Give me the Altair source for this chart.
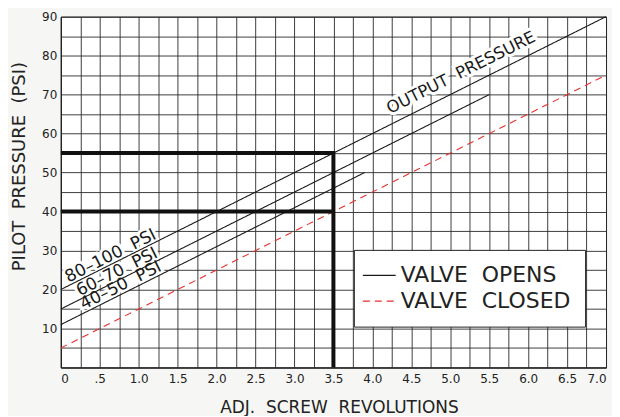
import altair as alt
import pandas as pd

# ---- data ----
revs_hi = [0.0, 7.0];  psi_hi = [20, 90]      # 80-100 PSI spring (output pressure)
revs_mid = [0.0, 5.5]; psi_mid = [15, 70]     # 60-70 PSI spring
revs_lo = [0.0, 3.9];  psi_lo = [11, 50]      # 40-50 PSI spring
revs_closed = [0.0, 7.0]; psi_closed = [5, 75]  # valve closed

set_a_x = [0.0, 3.5, 3.5]; set_a_y = [55, 55, 0]   # setpoint example (heavy)
set_b_x = [0.0, 3.5];      set_b_y = [40, 40]

NB = " \u00a0"  # wide word gap as in the reference lettering
label_text = ["OUTPUT" + NB + "PRESSURE", "80\u2013100" + NB + "PSI", "60\u201370" + NB + "PSI", "40\u201350" + NB + "PSI"]
label_size = [16.5, 17, 17, 17]
label_x = [5.14, 0.64, 0.72, 0.77]
label_y = [75.6, 28.6, 24.5, 21.0]

OPEN, CLOSED = "VALVE" + NB + "OPENS", "VALVE" + NB + "CLOSED"
FONT = "DejaVu Sans"

rows = []
for sid, (xs_, ys_, kind) in enumerate([(revs_hi, psi_hi, OPEN), (revs_mid, psi_mid, OPEN),
                                        (revs_lo, psi_lo, OPEN), (revs_closed, psi_closed, CLOSED)]):
    for i, (xv, yv) in enumerate(zip(xs_, ys_)):
        rows.append({"sid": sid, "x": xv, "y": yv, "kind": kind, "o": i})
lines_df = pd.DataFrame(rows)

heavy = []
for sid, (xs_, ys_) in enumerate([(set_a_x, set_a_y), (set_b_x, set_b_y)]):
    for i, (xv, yv) in enumerate(zip(xs_, ys_)):
        heavy.append({"sid": sid, "x": xv, "y": yv, "o": i})
heavy_df = pd.DataFrame(heavy)

labels_df = pd.DataFrame({"t": label_text, "x": label_x, "y": label_y, "s": label_size})

xgrid = [i * 0.25 for i in range(29)]
ygrid = list(range(0, 91, 5))

xs = alt.Scale(domain=[0, 7], nice=False, zero=False)
ys = alt.Scale(domain=[0, 90], nice=False, zero=False)

x_axis = alt.Axis(values=xgrid, tickCount=29, title="ADJ." + NB + "SCREW" + NB + "REVOLUTIONS", labelOverlap=False,
                  labelExpr="datum.value == 0 ? '0' : datum.value == 0.5 ? '.5' : (datum.value % 0.5 == 0 ? format(datum.value, '.1f') : '')",
                  titleX=279, titleY=40, titleBaseline="middle", titleAlign="center", labelPadding=6)
y_axis = alt.Axis(values=ygrid, tickCount=19, title="PILOT" + NB + "PRESSURE" + NB + "(PSI)", labelOverlap=False,
                  labelExpr="(datum.value % 10 == 0 && datum.value > 0) ? datum.label : ''",
                  titleX=-41, titleY=150, titleAngle=270, titleBaseline="middle", titleAlign="center",
                  titleFontSize=18, labelPadding=4)

X = alt.X("x:Q", scale=xs, axis=x_axis)
Y = alt.Y("y:Q", scale=ys, axis=y_axis)

legend = alt.Legend(title=None, orient="none", legendX=294, legendY=234,
                    fillColor="white", strokeColor="#222", padding=14,
                    labelFontSize=22, labelFont=FONT, labelColor="#222", labelOffset=10,
                    labelLimit=400,
                    symbolType="M-1.57,0H1.57", symbolSize=441, symbolStrokeWidth=1.2,
                    rowPadding=3, cornerRadius=0)

halo = alt.Chart(labels_df).mark_text(angle=333.4, font=FONT,
                                      stroke="white", strokeWidth=6, color="white").encode(
    x=X, y=Y, text="t:N", size=alt.Size("s:Q", scale=None, legend=None))

lines = alt.Chart(lines_df).mark_line(strokeWidth=1.1).encode(
    x=X, y=Y, detail="sid:N", order="o:Q",
    color=alt.Color("kind:N", scale=alt.Scale(domain=[OPEN, CLOSED], range=["#1a1a1a", "#e8302e"]), legend=legend),
    strokeDash=alt.StrokeDash("kind:N", scale=alt.Scale(domain=[OPEN, CLOSED], range=[[1, 0], [7, 5]]), legend=legend),
)

heavy_lines = alt.Chart(heavy_df).mark_line(strokeWidth=4, color="#111").encode(
    x=X, y=Y, detail="sid:N", order="o:Q")

texts = alt.Chart(labels_df).mark_text(angle=333.4, font=FONT, color="#1a1a1a").encode(
    x=X, y=Y, text="t:N", size=alt.Size("s:Q", scale=None, legend=None))

chart = alt.layer(halo, lines, heavy_lines, texts).properties(
    width=547, height=352,
    autosize=alt.AutoSizeParams(type="none"),
    padding={"left": 53, "top": 8, "right": 6, "bottom": 48},
    background="#f6f6f4",
).configure_view(fill="white", stroke="#222", strokeWidth=1).configure_axis(
    grid=True, gridColor="#2a2a2a", gridWidth=1, gridOpacity=0.9,
    domainColor="#222", ticks=False, labelFont=FONT, labelFontSize=12, labelColor="#222",
    titleFont=FONT, titleFontSize=17, titleFontWeight="normal", titleColor="#222",
)

chart.save("out.html", embed_options={"renderer": "svg", "actions": False})
